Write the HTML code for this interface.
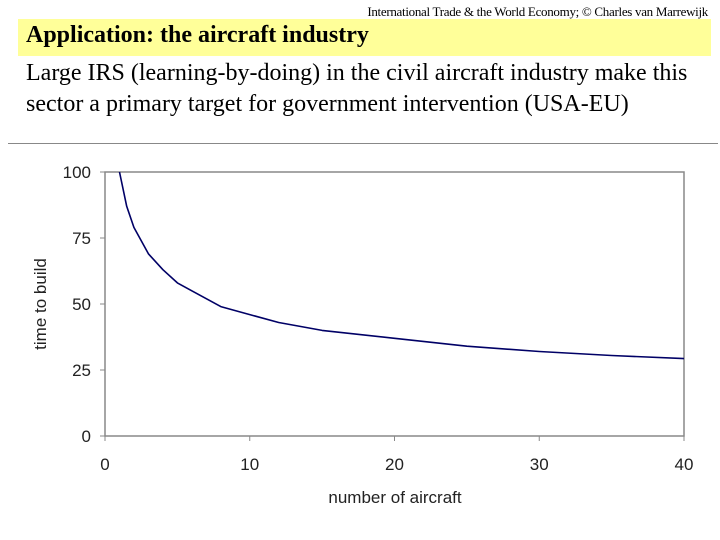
<!DOCTYPE html>
<html><head><meta charset="utf-8"><style>
body{margin:0;width:720px;height:540px;background:#fff;position:relative;overflow:hidden;font-family:"Liberation Serif",serif}
.abs{position:absolute;white-space:nowrap}
</style></head><body>
<div class="abs" style="right:12px;top:4px;font-size:13px;letter-spacing:-0.3px">International Trade &amp; the World Economy;  © Charles van Marrewijk</div>
<div class="abs" style="left:18px;top:19px;width:693px;height:37px;background:#ffff99"></div>
<div class="abs" style="left:26px;top:22px;font-size:24px;font-weight:bold">Application: the aircraft industry</div>
<div class="abs" style="left:26px;top:58px;font-size:24px;line-height:31px">Large IRS (learning-by-doing) in the civil aircraft industry make this<br>sector a primary target for government intervention (USA-EU)</div>
<div class="abs" style="left:8px;top:143px;width:710px;height:1px;background:#888"></div>
<svg class="abs" style="left:0;top:0" width="720" height="540" font-family="Liberation Sans, sans-serif">
<g id="g"></g>
</svg>
<script>
const xs=[1,1.5,2,3,4,5,6,7,8,10,12,15,20,25,30,35,40];
const ys=[100,87,79,69,63,58,55,52,49,46,43,40,37,34,32,30.5,29.3];
const xTicks=[0,10,20,30,40];
const yTicks=[0,25,50,75,100];
const X0=105,X1=684,Y0=436,Y1=172;
const sx=v=>X0+(v-0)/40*(X1-X0);
const sy=v=>Y0-(v-0)/100*(Y0-Y1);
const g=document.getElementById('g');const NS='http://www.w3.org/2000/svg';
function mk(t,a,txt){const e=document.createElementNS(NS,t);for(const k in a)e.setAttribute(k,a[k]);if(txt!=null)e.textContent=txt;g.appendChild(e);return e;}
const frame=mk('rect',{x:X0,y:Y1,width:X1-X0,height:Y0-Y1,fill:'none',stroke:'#888','stroke-width':1.5});


xTicks.forEach(v=>{
 const l=mk('line',{x1:sx(v),x2:sx(v),y1:Y0,y2:Y0+5,stroke:'#888'});
 
 
 const t=mk('text',{x:sx(v),y:470,'font-size':17,'text-anchor':'middle',fill:'#222'},v);
 
 
});
yTicks.forEach(v=>{
 const l=mk('line',{x1:X0-5,x2:X0,y1:sy(v),y2:sy(v),stroke:'#888'});
 
 
 const t=mk('text',{x:91,y:sy(v)+6,'font-size':17,'text-anchor':'end',fill:'#222'},v);
 
 
});
const p=mk('path',{d:xs.map((x,i)=>(i?'L':'M')+sx(x).toFixed(1)+','+sy(ys[i]).toFixed(1)).join(''),fill:'none',stroke:'#000066','stroke-width':1.6,'stroke-linejoin':'round'});


const xt=mk('text',{x:395,y:503,'font-size':17,'text-anchor':'middle',fill:'#222'},'number of aircraft');


const yt=mk('text',{x:0,y:0,'font-size':17,'text-anchor':'middle',fill:'#222',transform:'translate(46,304) rotate(-90)'},'time to build');


</script>
</body></html>
